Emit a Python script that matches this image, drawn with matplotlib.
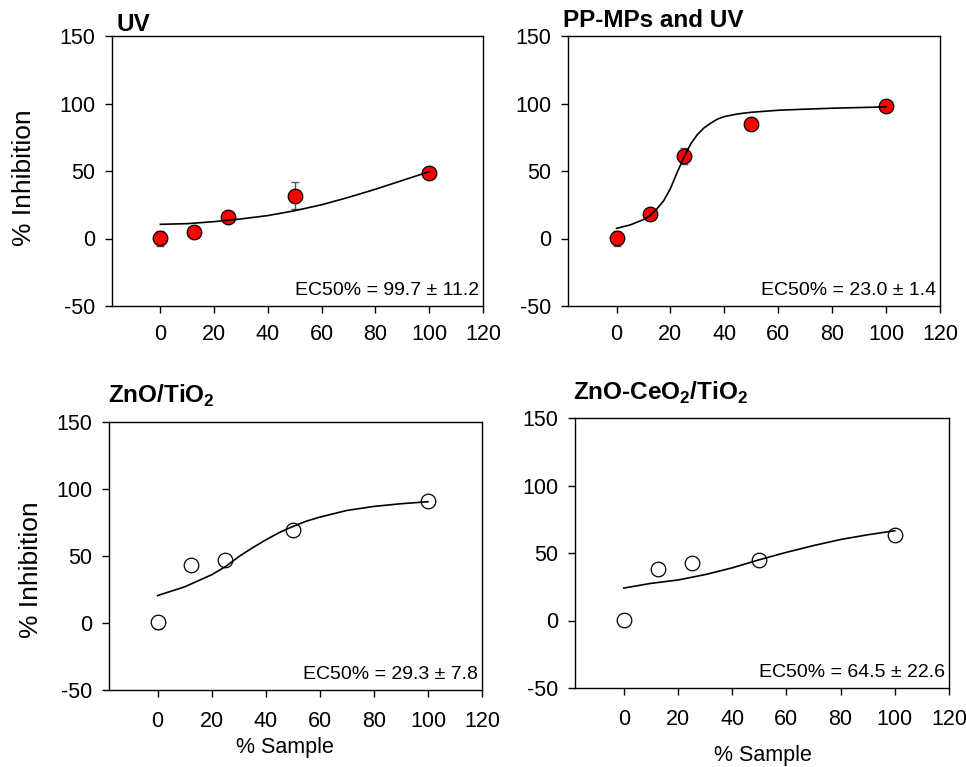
import matplotlib
matplotlib.use("Agg")
import matplotlib.pyplot as plt

plt.rcParams['font.family'] = ['Liberation Sans', 'DejaVu Sans']
plt.rcParams['mathtext.fontset'] = 'custom'
plt.rcParams['mathtext.rm'] = 'Liberation Sans'
plt.rcParams['mathtext.bf'] = 'Liberation Sans:bold'
plt.rcParams['axes.unicode_minus'] = False

# Concentraciones de muestra (%)
dosis = [0, 12.5, 25, 50, 100]

# Inhibicion medida y error
uv_y = [0.2, 4.6, 15.7, 31.5, 48.8]
uv_err = [5.5, 1.0, 2.0, 10.0, 1.0]
pp_y = [0.2, 17.9, 61.3, 84.6, 98.4]
pp_err = [5.5, 1.0, 6.0, 1.0, 1.0]
zn_y = [0.4, 43.0, 47.0, 69.4, 90.8]
zn_err = [5.0, 1.0, 1.0, 1.0, 1.0]
zc_y = [0.5, 38.4, 42.3, 45.0, 63.1]
zc_err = [4.5, 1.0, 1.0, 1.0, 1.0]

# Curvas de ajuste
uv_fit_x = [0, 10, 20, 30, 40, 50, 60, 70, 80, 90, 100]
uv_fit_y = [10.5, 11.0, 12.5, 14.5, 17.0, 20.6, 25.0, 30.5, 36.5, 43.0, 49.5]
pp_fit_x = [0, 5, 10, 12.5, 15, 17.5, 20, 22.5, 25, 27.5, 30, 32.5, 35, 37.5, 40, 45,
            50, 60, 70, 80, 90, 100]
pp_fit_y = [7.5, 10.0, 14.0, 17.0, 22.0, 28.0, 37.0, 49.0, 60.0, 70.0, 77.0, 82.0, 85.5,
            88.5, 90.3, 92.3, 93.5, 95.0, 95.8, 96.5, 97.0, 97.5]
zn_fit_x = [0, 10, 20, 25, 30, 35, 40, 45, 50, 55, 60, 70, 80, 90, 100]
zn_fit_y = [20.5, 27.0, 36.0, 42.0, 49.5, 56.0, 62.0, 67.5, 72.0, 76.0, 79.0, 84.0, 87.0,
            89.0, 90.5]
zc_fit_x = [0, 10, 20, 25, 30, 40, 50, 60, 70, 80, 90, 100]
zc_fit_y = [24.0, 27.5, 30.0, 32.0, 34.0, 39.0, 45.0, 50.5, 55.5, 60.0, 63.5, 66.5]

titulos = ['UV', 'PP-MPs and UV', r'ZnO/TiO$_\mathbf{2}$', r'ZnO-CeO$_\mathbf{2}$/TiO$_\mathbf{2}$']
ec50 = ['EC50% = 99.7 ± 11.2', 'EC50% = 23.0 ± 1.4', 'EC50% = 29.3 ± 7.8', 'EC50% = 64.5 ± 22.6']
xticks = [0, 20, 40, 60, 80, 100, 120]
yticks = [-50, 0, 50, 100, 150]

W, H = 966, 767
fig = plt.figure(figsize=(W / 100, H / 100), dpi=100)


def caja(l, r, t, b):
    return [l / W, 1 - b / H, (r - l) / W, (b - t) / H]


paneles = [
    (caja(112, 483, 36, 306), uv_y, uv_err, uv_fit_x, uv_fit_y, 'red', 8),
    (caja(568, 940, 36, 306), pp_y, pp_err, pp_fit_x, pp_fit_y, 'red', 8),
    (caja(109, 482, 422, 690), zn_y, zn_err, zn_fit_x, zn_fit_y, 'white', 10),
    (caja(575, 949, 418, 688), zc_y, zc_err, zc_fit_x, zc_fit_y, 'white', 10),
]
pos_titulo = [(116, 31), (563, 27), (108, 403), (573, 400)]

for i, (rect, y, err, fx, fy, color, pad) in enumerate(paneles):
    ax = fig.add_axes(rect)
    ax.errorbar(dosis, y, yerr=err, fmt='none', ecolor='#555555', elinewidth=1,
                capsize=3, capthick=1, zorder=2)
    ax.plot(dosis, y, 'o', ms=10.5, mfc=color, mec='black', mew=0.9, zorder=3)
    ax.plot(fx, fy, '-', color='black', lw=1.2, zorder=4)
    ax.set_xlim(-18, 120)
    ax.set_ylim(-50, 150)
    ax.set_xticks(xticks)
    ax.set_yticks(yticks)
    ax.tick_params(axis='both', direction='out', length=5, width=1, labelsize=15.5)
    ax.tick_params(axis='x', pad=pad)
    ax.tick_params(axis='y', pad=7)
    for s in ax.spines.values():
        s.set_linewidth(1)
    ax.text(0.99, 0.025, ec50[i], transform=ax.transAxes, ha='right', va='bottom',
            fontsize=14)
    tx, ty = pos_titulo[i]
    fig.text(tx / W, 1 - ty / H, titulos[i], fontsize=17.5, fontweight='bold',
             ha='left', va='baseline')

fig.text(24 / W, 1 - 178 / H, '% Inhibition', rotation=90, ha='center', va='center', fontsize=19)
fig.text(31 / W, 1 - 570 / H, '% Inhibition', rotation=90, ha='center', va='center', fontsize=19)
fig.text(285 / W, 1 - 747 / H, '% Sample', ha='center', va='center', fontsize=15.5)
fig.text(763 / W, 1 - 756 / H, '% Sample', ha='center', va='center', fontsize=15.5)

fig.savefig('out.png', dpi=100)
